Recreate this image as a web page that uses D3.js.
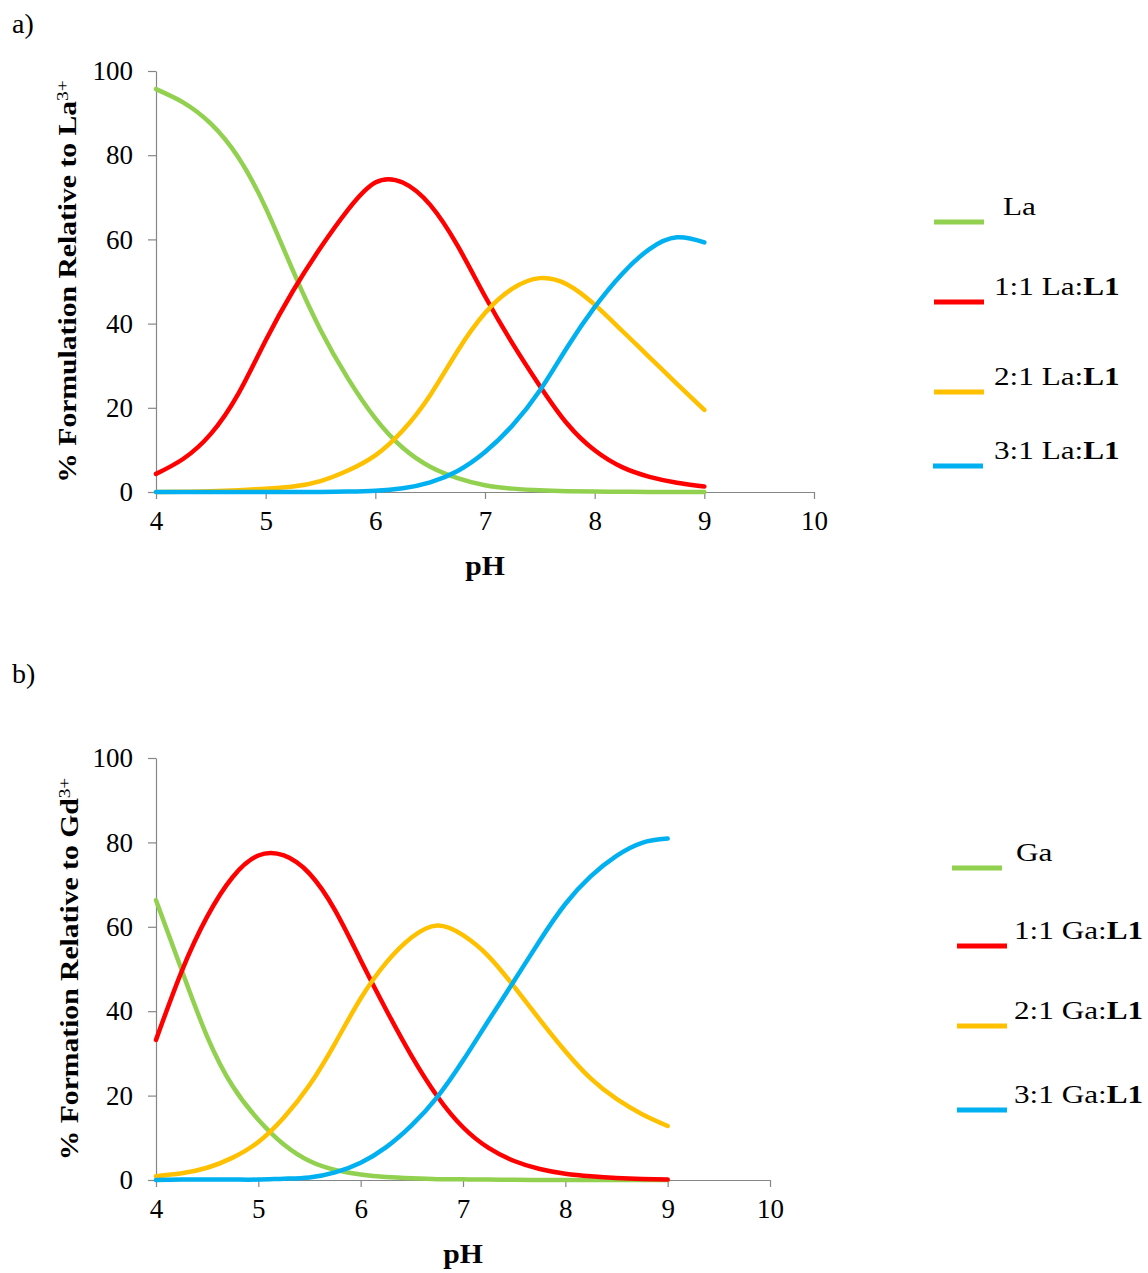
<!DOCTYPE html>
<meta charset="utf-8">

<style>

body {
  margin: 0;
  background: #fff;
}

svg text {
  font-family: 'Liberation Serif', 'Times New Roman', serif;
  fill: #000;
}

.axis path,
.axis line {
  stroke: #868686;
  stroke-width: 1.2;
}

.axis text {
  font-size: 27px;
  font-family: 'Liberation Serif', 'Times New Roman', serif;
}

.series {
  fill: none;
  stroke-width: 4.5;
  stroke-linecap: round;
}

.axis_title {
  font-weight: bold;
}

.legend text {
  font-size: 26px;
}

</style>

<body>
  <svg id="chart" width="1148" height="1273"></svg>
  <script src="https://d3js.org/d3.v7.min.js"></script>

  <script>

  // pH grid shared by both panels
  var pH = [4, 4.25, 4.5, 4.75, 5, 5.25, 5.5, 5.75, 6, 6.25, 6.5,
            6.75, 7, 7.25, 7.5, 7.75, 8, 8.25, 8.5, 8.75, 9];

  var xTicks = [4, 5, 6, 7, 8, 9, 10];
  var yTicks = [0, 20, 40, 60, 80, 100];

  var colors = ["#92D050", "#FF0000", "#FFC000", "#00B0F0"];

  // panel a) La
  var laFree = [95.7, 92.5, 87.5, 79.5, 67.5, 52.5, 38.5, 27, 17.5, 10.5, 6,
                3.3, 1.6, 0.8, 0.4, 0.2, 0.1, 0.05, 0, 0, 0];
  var la11   = [4.3, 7.9, 13.8, 23.3, 36, 47.8, 58, 67, 73.5, 73.5, 68.2,
                58.5, 46.5, 35.3, 25.2, 16.2, 9.9, 5.9, 3.6, 2.2, 1.3];
  var la21   = [0, 0.05, 0.15, 0.4, 0.8, 1.3, 2.6, 5.1, 8.7, 14.6, 23,
                33.5, 42.5, 48.3, 50.8, 49.3, 44.5, 38.3, 32, 25.7, 19.5];
  var la31   = [0, 0, 0, 0, 0, 0, 0, 0.1, 0.3, 0.9, 2.3,
                5, 9.5, 15.8, 24.1, 34.4, 43.9, 51.8, 57.7, 60.5, 59.3];
  var laNames = ["La", "1:1 La:", "2:1 La:", "3:1 La:"];

  // panel b) Gd / Ga
  var gaFree = [66.3, 49.8, 34, 22.2, 14.3, 8.4, 4.5, 2.4, 1.3, 0.7, 0.4,
                0.2, 0.15, 0.1, 0.05, 0, 0, 0, 0, 0, 0];
  var ga11   = [33.2, 49.4, 62.4, 71.8, 76.9, 76.9, 72.6, 63.9, 52.1, 40.3, 29.3,
                19.8, 12.5, 7.6, 4.5, 2.6, 1.5, 0.9, 0.5, 0.25, 0.1];
  var ga21   = [0.9, 1.6, 2.9, 5.3, 9, 14.8, 22.5, 32.4, 43, 51.5, 57.5,
                60.3, 58, 53, 45.8, 38, 30.5, 24, 19.2, 15.6, 12.8];
  var ga31   = [0, 0.1, 0.1, 0.1, 0.1, 0.3, 0.6, 1.8, 4.1, 7.8, 13,
                19.7, 28.3, 37.8, 47.2, 56.7, 65.4, 72, 76.8, 79.9, 80.9];
  var gaNames = ["Ga", "1:1 Ga:", "2:1 Ga:", "3:1 Ga:"];

  var panels = [
    { tag: "a)", tagY: 33,
      left: 156, right: 814, top: 71, bottom: 492,
      yTitle: "% Formulation Relative to La", yTitleX: 76,
      series: [laFree, la11, la21, la31], names: laNames,
      legLineX: [934, 934, 934, 933], legTextX: [1003, 994, 994, 994],
      legY: [222, 302, 392, 466] },
    { tag: "b)", tagY: 683,
      left: 156, right: 770, top: 758, bottom: 1180,
      yTitle: "% Formation Relative to Gd", yTitleX: 78,
      series: [gaFree, ga11, ga21, ga31], names: gaNames,
      legLineX: [952, 957, 957, 957], legTextX: [1016, 1014, 1014, 1014],
      legY: [868, 946, 1026, 1110] }
  ];

  var svg = d3.select("#chart");

  panels.forEach(function(p) {

    var x = d3.scaleLinear().domain([4, 10]).range([p.left, p.right]);
    var y = d3.scaleLinear().domain([0, 100]).range([p.bottom, p.top]);

    var g = svg.append("g");

    g.append("text")
      .attr("x", 12)
      .attr("y", p.tagY)
      .style("font-size", "28px")
      .text(p.tag);

    g.append("g")
      .attr("class", "axis")
      .attr("transform", "translate(0," + p.bottom + ")")
      .call(d3.axisBottom(x).tickValues(xTicks).tickSize(7).tickSizeOuter(0).tickPadding(12)
        .tickFormat(d3.format("d")))
      .attr("font-family", null)
      .attr("font-size", null);

    g.append("g")
      .attr("class", "axis")
      .attr("transform", "translate(" + p.left + ",0)")
      .call(d3.axisLeft(y).tickValues(yTicks).tickSize(8).tickSizeOuter(0).tickPadding(15))
      .attr("font-family", null)
      .attr("font-size", null);

    g.append("text")
      .attr("class", "axis_title")
      .attr("transform", "translate(" + ((p.left + p.right) / 2) + "," + (p.bottom + 83) + ") scale(1.1,1)")
      .attr("text-anchor", "middle")
      .style("font-size", "27px")
      .text("pH");

    var yt = g.append("text")
      .attr("class", "axis_title")
      .attr("transform", "translate(" + p.yTitleX + "," + ((p.top + p.bottom) / 2) + ") rotate(-90) scale(1.14,1)")
      .attr("text-anchor", "middle")
      .style("font-size", "26px");
    yt.append("tspan").text(p.yTitle);
    yt.append("tspan")
      .attr("dy", "-0.45em")
      .style("font-size", "17px")
      .style("font-weight", "normal")
      .text("3+");

    var line = d3.line()
      .x(function(d, i) { return x(pH[i]); })
      .y(function(d) { return y(d); })
      .curve(d3.curveNatural);

    g.selectAll(".series")
      .data(p.series)
      .enter().append("path")
      .attr("class", "series")
      .attr("stroke", function(d, i) { return colors[i]; })
      .attr("d", line);

    var leg = g.append("g").attr("class", "legend");

    p.names.forEach(function(name, i) {
      leg.append("line")
        .attr("x1", p.legLineX[i])
        .attr("x2", p.legLineX[i] + 50)
        .attr("y1", p.legY[i])
        .attr("y2", p.legY[i])
        .attr("stroke", colors[i])
        .attr("stroke-width", 5);

      var t = leg.append("text")
        .attr("transform", "translate(" + p.legTextX[i] + "," + (p.legY[i] - 7) + ") scale(1.2,1)");
      t.append("tspan").text(name);
      if (i > 0) {
        t.append("tspan").style("font-weight", "bold").text("L1");
      }
    });
  });

  </script>
</body>
